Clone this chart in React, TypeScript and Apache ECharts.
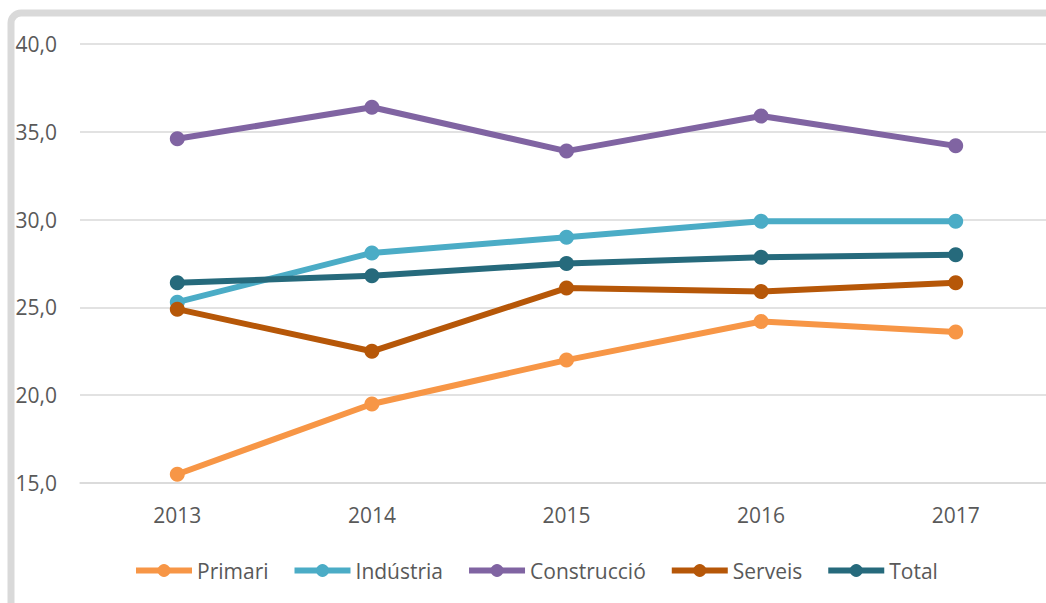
import React, { useEffect, useRef } from "react";
import * as echarts from "echarts";

const years = ["2013", "2014", "2015", "2016", "2017"];
const primari = [15.5, 19.5, 22.0, 24.2, 23.6];
const industria = [25.3, 28.1, 29.0, 29.9, 29.9];
const construccio = [34.6, 36.4, 33.9, 35.9, 34.2];
const serveis = [24.9, 22.5, 26.1, 25.9, 26.4];
const total = [26.4, 26.8, 27.5, 27.85, 28.0];

const seriesDefs = [
  { name: "Primari", data: primari, color: "#F79646" },
  { name: "Indústria", data: industria, color: "#4BACC6" },
  { name: "Construcció", data: construccio, color: "#8064A2" },
  { name: "Serveis", data: serveis, color: "#B65708" },
  { name: "Total", data: total, color: "#266A7C" },
];

const FONT = "'Open Sans', 'DejaVu Sans', sans-serif";

export default function App() {
  const ref = useRef<HTMLDivElement>(null);
  useEffect(() => {
    if (!ref.current) return;
    const chart = echarts.init(ref.current, undefined, { renderer: "svg" });
    chart.setOption({
      animation: false,
      backgroundColor: "#ffffff",
      textStyle: { fontFamily: FONT },
      grid: {
        left: 80,
        width: 973,
        top: 44,
        bottom: 120,
        containLabel: false,
        outerBoundsMode: "none",
      },
      graphic: [
        {
          type: "rect",
          z: 100,
          shape: { x: 11, y: 13, width: 1300, height: 900, r: 10 },
          style: { fill: "none", stroke: "#d9d9d9", lineWidth: 7 },
          silent: true,
        },
      ],
      legend: {
        left: 128,
        top: 555,
        itemWidth: 56,
        itemHeight: 16,
        itemGap: 23,
        lineStyle: { width: 6 },
        textStyle: { color: "#595959", fontSize: 21, fontFamily: FONT },
        data: seriesDefs.map((s) => s.name),
      },
      xAxis: {
        type: "category",
        data: years,
        boundaryGap: true,
        axisLine: { show: true, lineStyle: { color: "#d9d9d9", width: 1.5 } },
        axisTick: { show: false },
        axisLabel: { color: "#595959", fontSize: 21, margin: 21, fontFamily: FONT },
      },
      yAxis: {
        type: "value",
        min: 15,
        max: 40,
        interval: 5,
        axisLine: { show: false },
        axisTick: { show: false },
        splitLine: { lineStyle: { color: "#d9d9d9", width: 1.5 } },
        axisLabel: {
          color: "#595959",
          fontSize: 21,
          margin: 23,
          fontFamily: FONT,
          formatter: (v: number) => v.toFixed(1).replace(".", ","),
        },
      },
      series: seriesDefs.map((s) => ({
        name: s.name,
        type: "line",
        data: s.data,
        symbol: "circle",
        symbolSize: 15,
        lineStyle: { color: s.color, width: 6 },
        itemStyle: { color: s.color },
      })),
    });
    return () => chart.dispose();
  }, []);
  return (
    <div
      ref={ref}
      style={{ position: "fixed", left: 0, top: 0, width: 1046, height: 603, background: "#fff" }}
    />
  );
}
